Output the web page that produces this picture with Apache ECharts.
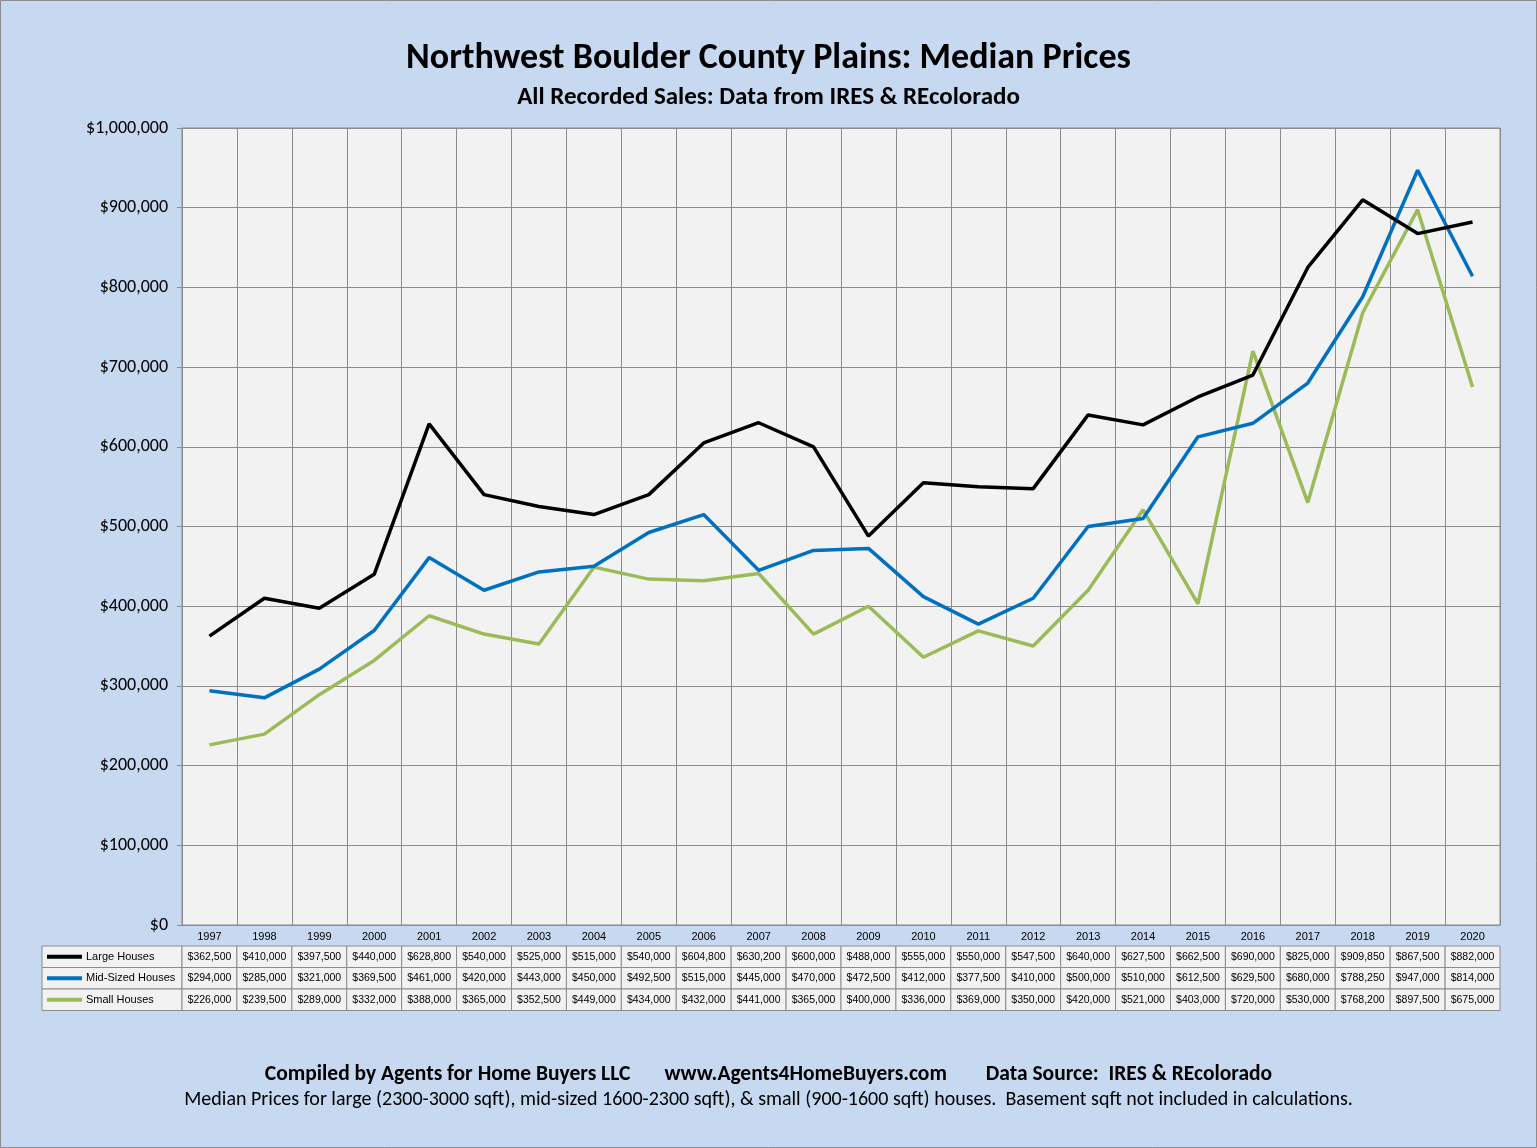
<!DOCTYPE html>
<html><head><meta charset="utf-8">
<script src="https://cdn.jsdelivr.net/npm/echarts@6/dist/echarts.min.js"></script>
<style>html,body{margin:0;padding:0;}#c{width:1537px;height:1148px;}</style>
</head><body><div id="c"></div>
<script>
var years = ['1997','1998','1999','2000','2001','2002','2003','2004','2005','2006','2007','2008','2009','2010','2011','2012','2013','2014','2015','2016','2017','2018','2019','2020'];
var large = [362500,410000,397500,440000,628800,540000,525000,515000,540000,604800,630200,600000,488000,555000,550000,547500,640000,627500,662500,690000,825000,909850,867500,882000];
var mid = [294000,285000,321000,369500,461000,420000,443000,450000,492500,515000,445000,470000,472500,412000,377500,410000,500000,510000,612500,629500,680000,788250,947000,814000];
var small = [226000,239500,289000,332000,388000,365000,352500,449000,434000,432000,441000,365000,400000,336000,369000,350000,420000,521000,403000,720000,530000,768200,897500,675000];
var seriesNames = ['Large Houses','Mid-Sized Houses','Small Houses'];
var colors = ['#000000','#0070c0','#9bbb59'];

var chart = echarts.init(document.getElementById('c'));
var gl = 182, gr = 1500, rowTop = 946, rowH = 21.5;
var cw = (gr - gl) / years.length;
var rows = [large, mid, small];
var fmt = function (v) { return '$' + v.toLocaleString('en-US'); };
var ff = 'Carlito, Calibri, Liberation Sans';

// data table built from the arrays
var graphics = [{type: 'rect', shape: {x: 0.5, y: 0.5, width: 1536, height: 1147},
    style: {fill: 'none', stroke: '#8c8c8c', lineWidth: 1}}];
rows.forEach(function (row, r) {
    var y = rowTop + r * rowH;
    graphics.push({type: 'rect', shape: {x: 42, y: y, width: gl - 42, height: rowH},
        style: {fill: '#f2f2f2', stroke: '#8c8c8c', lineWidth: 1}});
    graphics.push({type: 'line', shape: {x1: 47, y1: y + rowH / 2, x2: 82, y2: y + rowH / 2},
        style: {stroke: colors[r], lineWidth: 4}});
    graphics.push({type: 'text', x: 86, y: y + rowH / 2,
        style: {text: seriesNames[r], fontSize: 11, fontFamily: 'Liberation Sans', fill: '#000', verticalAlign: 'middle'}});
    row.forEach(function (v, i) {
        var x = gl + i * cw;
        graphics.push({type: 'rect', shape: {x: x, y: y, width: cw, height: rowH},
            style: {fill: '#f2f2f2', stroke: '#8c8c8c', lineWidth: 1}});
        graphics.push({type: 'text', x: x + cw / 2, y: y + rowH / 2,
            style: {text: fmt(v), fontSize: 10.5, fontFamily: 'Liberation Sans', fill: '#000', align: 'center', verticalAlign: 'middle'}});
    });
});
graphics.push({type: 'text', left: 'center', top: 1064,
    style: {text: 'Compiled by Agents for Home Buyers LLC       www.Agents4HomeBuyers.com        Data Source:  IRES & REcolorado',
        fontSize: 21.5, fontWeight: 'bold', fontFamily: ff, fill: '#000'}});
graphics.push({type: 'text', left: 'center', top: 1090,
    style: {text: 'Median Prices for large (2300-3000 sqft), mid-sized 1600-2300 sqft), & small (900-1600 sqft) houses.  Basement sqft not included in calculations.',
        fontSize: 20, fontFamily: ff, fill: '#000'}});

chart.setOption({
    backgroundColor: '#c6d9f1',
    title: {
        text: 'Northwest Boulder County Plains: Median Prices',
        subtext: 'All Recorded Sales: Data from IRES & REcolorado',
        left: 'center', top: 36, itemGap: 8,
        textStyle: {fontSize: 36, fontWeight: 'bold', color: '#000', fontFamily: ff},
        subtextStyle: {fontSize: 25, fontWeight: 'bold', color: '#000', fontFamily: ff}
    },
    grid: {left: gl, right: 1537 - gr, top: 128, bottom: 1148 - 925, backgroundColor: '#f2f2f2', show: true, borderColor: '#8c8c8c', borderWidth: 1},
    xAxis: {
        type: 'category', data: years, boundaryGap: true,
        axisLine: {lineStyle: {color: '#8c8c8c'}},
        axisTick: {show: false},
        axisLabel: {fontSize: 11, color: '#000', margin: 6, fontFamily: 'Liberation Sans'},
        splitLine: {show: true, interval: 0, lineStyle: {color: '#8c8c8c', width: 1}}
    },
    yAxis: {
        type: 'value', min: 0, max: 1000000, interval: 100000,
        axisLine: {show: true, lineStyle: {color: '#8c8c8c'}},
        axisTick: {show: true, length: 5, lineStyle: {color: '#8c8c8c'}},
        axisLabel: {fontSize: 18, color: '#000', fontFamily: ff, margin: 14, formatter: fmt},
        splitLine: {lineStyle: {color: '#8c8c8c'}}
    },
    series: rows.map(function (row, r) {
        return {name: seriesNames[r], type: 'line', data: row, symbol: 'none',
            lineStyle: {color: colors[r], width: 3.5}, itemStyle: {color: colors[r]}, z: 10 - r};
    }),
    graphic: graphics
});
</script></body></html>
